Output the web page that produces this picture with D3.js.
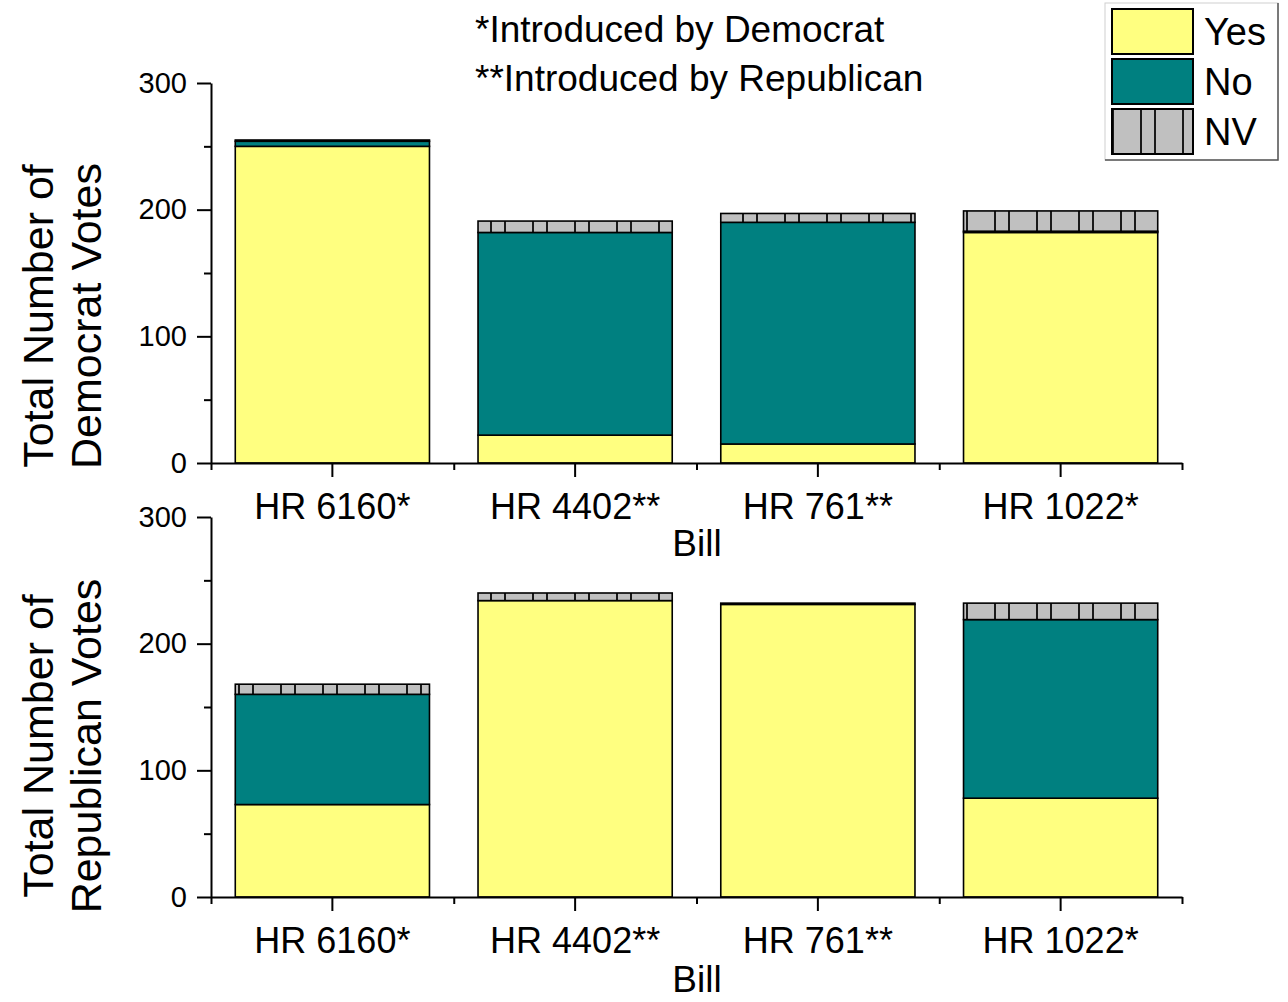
<!DOCTYPE html>
<html>
<head>
<meta charset="utf-8">
<script src="https://cdn.jsdelivr.net/npm/d3@7"></script>
<style>
  body { margin: 0; background: #fff; }
  svg { display: block; }
</style>
</head>
<body>
<script>
const bills = ['HR 6160*', 'HR 4402**', 'HR 761**', 'HR 1022*']

const demYes = [250, 22, 15, 182]
const demNo = [4, 160, 175, 1]
const demNV = [1, 9, 7, 16]

const repYes = [73, 234, 231, 78]
const repNo = [87, 0, 1, 141]
const repNV = [8, 6, 0, 13]

const yTicks = [0, 100, 200, 300]
const yMinorTicks = [50, 150, 250]

const legendKeys = ['yes', 'no', 'nv']
const legendLabels = ['Yes', 'No', 'NV']
const notes = ['*Introduced by Democrat', '**Introduced by Republican']

const W = 1288, H = 1002
const font = '"Liberation Sans", Arial, sans-serif'
const colors = { yes: '#ffff80', no: '#008080', nv: 'url(#nvPattern)' }

const svg = d3.select('body').append('svg')
    .attr('width', W)
    .attr('height', H)
    .style('font-family', font)

// NV hatch: grey with uneven vertical bars
const pat = svg.append('defs').append('pattern')
    .attr('id', 'nvPattern')
    .attr('patternUnits', 'userSpaceOnUse')
    .attr('width', 84)
    .attr('height', 10)
pat.append('rect').attr('width', 84).attr('height', 10).attr('fill', '#c0c0c0')
;[0, 28, 42, 70].forEach(px => {
    pat.append('rect').attr('x', px).attr('width', 2).attr('height', 10).attr('fill', '#1a1a1a')
})

const x = d3.scaleBand()
    .domain(bills)
    .range([211, 1182])
    .paddingInner(0.2)
    .paddingOuter(0.1)

const panels = [
    { yes: demYes, no: demNo, nv: demNV, title: ['Total Number of', 'Democrat Votes'], y0: 463, titleCy: 316, billY: 556 },
    { yes: repYes, no: repNo, nv: repNV, title: ['Total Number of', 'Republican Votes'], y0: 897, titleCy: 746, billY: 992 }
]

panels.forEach(p => {
    const y = d3.scaleLinear().domain([0, 300]).range([p.y0, p.y0 - 380])
    const rows = bills.map((b, i) => ({ bill: b, yes: p.yes[i], no: p.no[i], nv: p.nv[i] }))
    const series = d3.stack().keys(legendKeys)(rows)

    const g = svg.append('g')

    g.selectAll('g.layer')
        .data(series)
        .join('g')
        .attr('class', 'layer')
        .attr('fill', d => colors[d.key])
        .selectAll('rect')
        .data(d => d)
        .join('rect')
        .attr('x', d => x(d.data.bill))
        .attr('y', d => y(d[1]))
        .attr('width', x.bandwidth())
        .attr('height', d => y(d[0]) - y(d[1]))
        .attr('stroke', '#000')
        .attr('stroke-width', 1.6)

    // y axis
    const yAxis = g.append('g')
        .attr('transform', 'translate(211,0)')
        .call(d3.axisLeft(y).tickValues(yTicks).tickSize(14).tickSizeOuter(0).tickPadding(10))
    yAxis.selectAll('text').style('font-size', '29px').style('font-family', font).attr('fill', '#000')
    yAxis.selectAll('line, path').attr('stroke', '#000').attr('stroke-width', 2)

    const yMinor = g.append('g')
        .attr('transform', 'translate(211,0)')
        .call(d3.axisLeft(y).tickValues(yMinorTicks).tickSize(7).tickFormat(''))
    yMinor.select('.domain').remove()
    yMinor.selectAll('line').attr('stroke', '#000').attr('stroke-width', 2)

    // x axis
    const xAxis = g.append('g')
        .attr('transform', `translate(0,${p.y0})`)
        .call(d3.axisBottom(x).tickSize(14).tickSizeOuter(0).tickPadding(16))
    xAxis.selectAll('text').style('font-size', '36px').style('font-family', font).attr('fill', '#000')
    xAxis.selectAll('line, path').attr('stroke', '#000').attr('stroke-width', 2)

    const edges = d3.scaleLinear().domain([0, bills.length]).range(x.range())
    const xMinor = g.append('g')
        .attr('transform', `translate(0,${p.y0})`)
        .call(d3.axisBottom(edges).tickValues(d3.range(bills.length + 1)).tickSize(7).tickFormat(''))
    xMinor.select('.domain').remove()
    xMinor.selectAll('line').attr('stroke', '#000').attr('stroke-width', 2)

    g.append('text')
        .attr('x', 697)
        .attr('y', p.billY)
        .attr('text-anchor', 'middle')
        .attr('font-size', '37px')
        .text('Bill')

    const t = g.append('g')
        .attr('transform', `translate(0,${p.titleCy}) rotate(-90)`)
    t.selectAll('text')
        .data(p.title)
        .join('text')
        .attr('x', 0)
        .attr('y', (d, i) => 53 + i * 48)
        .attr('text-anchor', 'middle')
        .attr('font-size', '43px')
        .text(d => d)
})

// notes
svg.selectAll('text.note')
    .data(notes)
    .join('text')
    .attr('class', 'note')
    .attr('x', 475)
    .attr('y', (d, i) => 42 + i * 49)
    .attr('font-size', '37px')
    .text(d => d)

// legend
const lg = svg.append('g')
lg.append('rect')
    .attr('x', 1105).attr('y', 3)
    .attr('width', 173).attr('height', 157)
    .attr('fill', '#fff')
    .attr('stroke', '#d0d0d0')
lg.append('path')
    .attr('d', 'M1278,3V160H1105')
    .attr('fill', 'none')
    .attr('stroke', '#555')
    .attr('stroke-width', 1.5)

const items = lg.selectAll('g.item')
    .data(legendKeys)
    .join('g')
    .attr('class', 'item')
    .attr('transform', (d, i) => `translate(1112,${9 + i * 50})`)
items.append('rect')
    .attr('width', 81)
    .attr('height', 45)
    .attr('fill', d => colors[d])
    .attr('stroke', '#000')
    .attr('stroke-width', 2)
items.append('text')
    .attr('x', 92)
    .attr('y', 36)
    .attr('font-size', '38px')
    .text((d, i) => legendLabels[i])
</script>
</body>
</html>
